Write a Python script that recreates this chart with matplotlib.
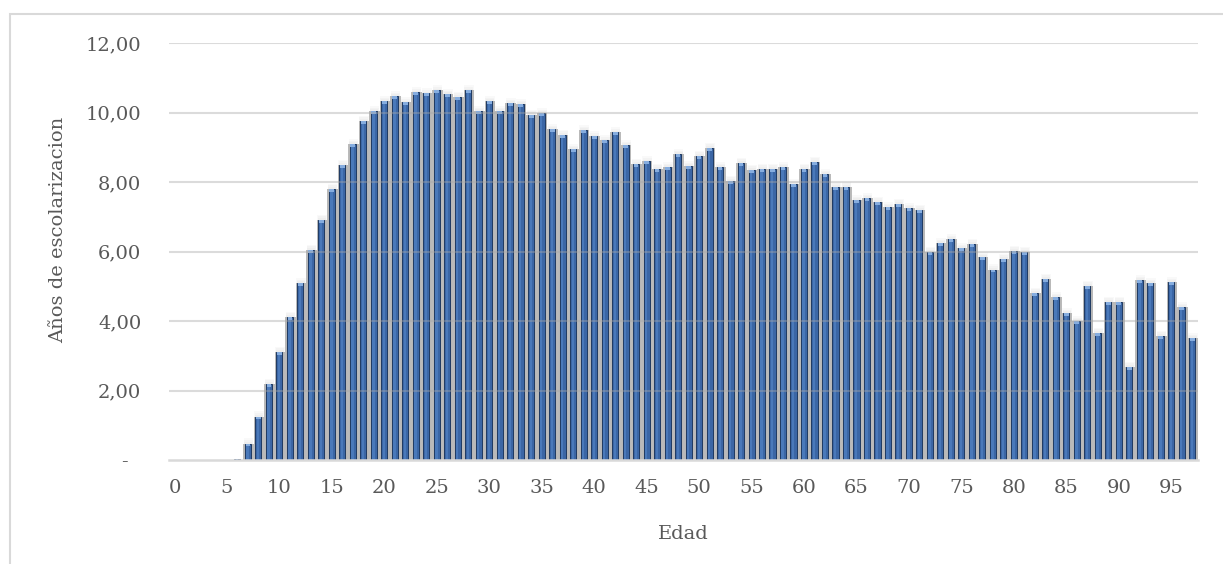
import numpy as np
import matplotlib
matplotlib.use('Agg')
import matplotlib.pyplot as plt
from matplotlib.patches import Rectangle

# Edad (0..97) y años de escolarizacion promedio
edades = np.arange(0, 98)
anios = [0.00, 0.00, 0.00, 0.00, 0.00, 0.00, 0.04, 0.47, 1.25, 2.19,
         3.11, 4.12, 5.09, 6.05, 6.91, 7.80, 8.49, 9.09, 9.76, 10.04,
         10.33, 10.47, 10.29, 10.58, 10.55, 10.64, 10.53, 10.45, 10.64, 10.04,
         10.33, 10.04, 10.27, 10.24, 9.93, 9.98, 9.52, 9.36, 8.95, 9.49,
         9.31, 9.20, 9.43, 9.06, 8.52, 8.59, 8.38, 8.43, 8.80, 8.46,
         8.75, 8.98, 8.43, 8.03, 8.55, 8.35, 8.38, 8.38, 8.43, 7.94,
         8.38, 8.58, 8.23, 7.86, 7.86, 7.48, 7.54, 7.43, 7.28, 7.37,
         7.25, 7.20, 5.99, 6.24, 6.36, 6.10, 6.22, 5.84, 5.48, 5.79,
         6.02, 5.99, 4.81, 5.21, 4.69, 4.23, 4.00, 5.01, 3.66, 4.55,
         4.55, 2.68, 5.18, 5.09, 3.57, 5.12, 4.40, 3.51]
yticks = [0, 2, 4, 6, 8, 10, 12]
ytick_labels = ['-  ', '2,00', '4,00', '6,00', '8,00', '10,00', '12,00']
xticks = list(range(0, 96, 5))

plt.rcParams['font.family'] = ['DejaVu Serif']
gris = '#595959'
fsize = 14

fig = plt.figure(figsize=(12.23, 5.64), dpi=100)
ax = fig.add_axes([169.2 / 1223, 104 / 564, 1028.3 / 1223, 417 / 564])

# borde del grafico (se sale de la imagen por la derecha y abajo)
fig.patches.append(Rectangle((10 / 1223, -0.05), 1.1, 550 / 564 + 0.05,
                             transform=fig.transFigure, fill=False,
                             edgecolor='#d9d9d9', linewidth=1.5))

y = np.array(anios)
con_valor = y > 0.1

# sombra difusa detras de las barras
ax.bar(edades[con_valor] + 0.05, y[con_valor], width=1.0, color='#bababa',
       linewidth=0, zorder=1)
for k in range(3):
    ax.bar(edades[con_valor] + 0.05, y[con_valor] + 0.05 * (k + 1),
           width=0.75 + 0.08 * k, color='#b0b0b0', alpha=0.07,
           linewidth=0, zorder=1)

# barras con efecto de relieve
ax.bar(edades, y, width=0.58, color='#3b66a5', edgecolor='#1f3a62',
       linewidth=0.7, zorder=2)
ax.bar(edades - 0.04, y, width=0.22, color='#4a79ba', linewidth=0, zorder=3)
ax.bar(edades[con_valor], 0.08, bottom=y[con_valor] - 0.08, width=0.45,
       color='#86addf', linewidth=0, zorder=4)

ax.set_xlim(-0.5, 97.5)
ax.set_ylim(0, 12)
ax.set_yticks(yticks)
ax.set_yticklabels(ytick_labels)
ax.set_xticks(xticks)
ax.set_xticklabels([str(e) for e in xticks])
ax.tick_params(axis='both', length=0, labelsize=fsize, colors=gris)
ax.tick_params(axis='y', pad=20)
ax.tick_params(axis='x', pad=14)

for v in yticks[1:]:
    ax.axhline(v, color='#a6a6a6', alpha=0.4, linewidth=1.5, zorder=5)

for s in ['top', 'right', 'left']:
    ax.spines[s].set_visible(False)
ax.spines['bottom'].set_color('#d9d9d9')
ax.spines['bottom'].set_linewidth(1.8)
ax.spines['bottom'].set_zorder(6)

ax.set_xlabel('Edad', fontsize=fsize, color=gris, labelpad=20)
ax.set_ylabel('Años de escolarizacion', fontsize=fsize, color=gris)
ax.yaxis.set_label_coords(-102 / 1028.3, (460 - 230) / 417)

fig.savefig('out.png', dpi=100)
